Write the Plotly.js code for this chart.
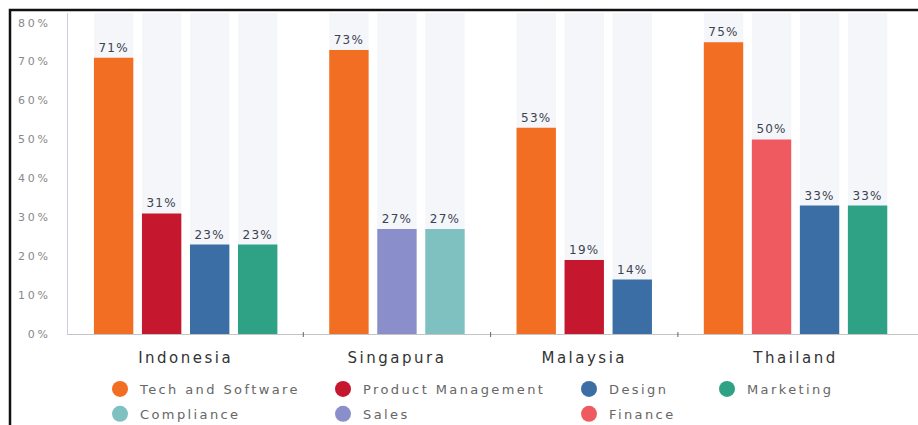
<!DOCTYPE html>
<html><head><meta charset="utf-8">
<script src="https://cdn.plot.ly/plotly-3.0.1.min.js"></script>
<style>
html,body{margin:0;padding:0;background:#fff;overflow:hidden;}
#chart{width:918px;height:425px;}
#chart .infolayer text{letter-spacing:2.4px;}
#chart .xtick text{letter-spacing:2.5px;}
#chart .ytick text{letter-spacing:2.8px;}
#chart text.bartext{letter-spacing:1.2px;}
</style></head><body><div id="chart"></div>
<script>
// ---- data ----
const categories = ['Indonesia', 'Singapura', 'Malaysia', 'Thailand'];
const seriesNames = ['Tech and Software', 'Product Management', 'Design', 'Marketing', 'Compliance', 'Sales', 'Finance'];
const techSoftware      = [71, 73, 53, 75];
const productManagement = [31, null, 19, null];
const design            = [23, null, 14, 33];
const marketing         = [23, null, null, 33];
const compliance        = [null, 27, null, null];
const sales             = [null, 27, null, null];
const finance           = [null, null, null, 50];
const yTickValues = [0, 10, 20, 30, 40, 50, 60, 70, 80];
const yTickLabels = ['0%', '10%', '20%', '30%', '40%', '50%', '60%', '70%', '80%'];

// ---- style / layout helpers ----
const valuesBySeries = {
  'Tech and Software': techSoftware,
  'Product Management': productManagement,
  'Design': design,
  'Marketing': marketing,
  'Compliance': compliance,
  'Sales': sales,
  'Finance': finance
};
const colors = {
  'Tech and Software': '#f26e22',
  'Product Management': '#c5172e',
  'Design': '#3b6ea5',
  'Marketing': '#2fa286',
  'Compliance': '#7fc0c0',
  'Sales': '#8a8fcb',
  'Finance': '#ef5a60'
};
const barOrder = ['Tech and Software', 'Product Management', 'Sales', 'Finance', 'Design', 'Compliance', 'Marketing'];
const legendOf = {
  'Tech and Software': 'legend', 'Compliance': 'legend',
  'Product Management': 'legend2', 'Sales': 'legend2',
  'Design': 'legend3', 'Finance': 'legend3',
  'Marketing': 'legend4'
};

const W = 918, H = 425, ML = 68, MR = 0, MT = 13, MB = 91;
const plotW = W - ML - MR, plotH = H - MT - MB;
const px2x = p => (p - ML) / plotW;
const py2y = p => (H - MB - p) / plotH;

const groupPad = 0.45, barW = 0.82;
const xBySeries = {};
seriesNames.forEach(s => xBySeries[s] = categories.map(() => null));
const groupCenters = [], boundaries = [], slotCenters = [];
let cursor = 0;
categories.forEach((c, ci) => {
  const present = barOrder.filter(s => valuesBySeries[s][ci] !== null);
  const start = cursor;
  present.forEach((s, i) => {
    const xc = start + groupPad + 0.5 + i;
    xBySeries[s][ci] = xc;
    slotCenters.push(xc);
  });
  const width = present.length + 2 * groupPad;
  groupCenters.push(start + width / 2);
  cursor += width;
  boundaries.push(cursor);
});
boundaries.pop();
const xMax = cursor + 0.1;

const traces = [];
barOrder.forEach(s => {
  const vals = valuesBySeries[s];
  const xs = [], ys = [], txt = [];
  vals.forEach((v, i) => { if (v !== null) { xs.push(xBySeries[s][i]); ys.push(v); txt.push(v + '%'); } });
  traces.push({
    type: 'bar', name: s, x: xs, y: ys, width: barW,
    marker: {color: colors[s]},
    text: txt, textposition: 'outside', cliponaxis: false,
    textfont: {family: 'DejaVu Sans', size: 12, color: '#3c4350'},
    legendgroup: s, showlegend: false,
    hovertemplate: s + ': %{y}%<extra></extra>'
  });
});
seriesNames.forEach(s => {
  traces.push({
    type: 'scatter', mode: 'markers', name: s, x: [null], y: [null],
    marker: {color: colors[s], size: 16, symbol: 'circle'},
    legendgroup: s, legend: legendOf[s], showlegend: true, hoverinfo: 'skip'
  });
});

const shapes = [];
slotCenters.forEach(xc => shapes.push({
  type: 'rect', xref: 'x', yref: 'paper', x0: xc - barW / 2, x1: xc + barW / 2, y0: 0, y1: 1,
  fillcolor: '#f4f6fa', line: {width: 0}, layer: 'below'
}));
boundaries.forEach(b => shapes.push({
  type: 'line', xref: 'x', yref: 'paper', x0: b, x1: b, y0: py2y(332), y1: py2y(337),
  line: {color: '#666', width: 1}
}));
// frame: left and top edges only
shapes.push({
  type: 'path', xref: 'paper', yref: 'paper',
  path: 'M ' + px2x(10) + ',' + py2y(440) + ' L ' + px2x(10) + ',' + py2y(10) + ' L ' + px2x(930) + ',' + py2y(10),
  line: {color: '#111', width: 2.5}
});

const legendBase = {
  orientation: 'v', xanchor: 'left', yanchor: 'top', y: py2y(374),
  bgcolor: 'rgba(0,0,0,0)', tracegroupgap: 5,
  font: {family: 'DejaVu Sans', size: 13, color: '#666'}
};

const layout = {
  width: W, height: H,
  margin: {l: ML, r: MR, t: MT, b: MB, autoexpand: false},
  paper_bgcolor: '#fff', plot_bgcolor: '#fff',
  barmode: 'overlay',
  showlegend: true,
  xaxis: {
    range: [0, xMax], tickvals: groupCenters, ticktext: categories,
    showgrid: false, zeroline: false, showline: true, linecolor: '#c4c4c4', linewidth: 1,
    ticks: '', ticklabelstandoff: 10, automargin: false,
    tickfont: {family: 'DejaVu Sans', size: 15, color: '#333'}, fixedrange: true
  },
  yaxis: {
    range: [0, 82.5], tickvals: yTickValues, ticktext: yTickLabels,
    showgrid: false, zeroline: false, showline: true, linecolor: '#c9d0db', linewidth: 1,
    ticks: '', ticklabelstandoff: 14, automargin: false,
    tickfont: {family: 'DejaVu Sans', size: 11, color: '#888'}, fixedrange: true
  },
  legend: Object.assign({}, legendBase, {x: px2x(100)}),
  legend2: Object.assign({}, legendBase, {x: px2x(323)}),
  legend3: Object.assign({}, legendBase, {x: px2x(569)}),
  legend4: Object.assign({}, legendBase, {x: px2x(707)}),
  shapes: shapes
};

function spaceLegendText() {
  const root = document.getElementById('chart');
  root.querySelectorAll('.infolayer text').forEach(t => { t.style.letterSpacing = '2.4px'; });
  root.querySelectorAll('.infolayer [clip-path]').forEach(e => e.removeAttribute('clip-path'));
}

Plotly.newPlot('chart', traces, layout, {displayModeBar: false}).then(gd => {
  spaceLegendText();
  gd.on('plotly_afterplot', spaceLegendText);
  setTimeout(spaceLegendText, 50);
});
</script></body></html>
